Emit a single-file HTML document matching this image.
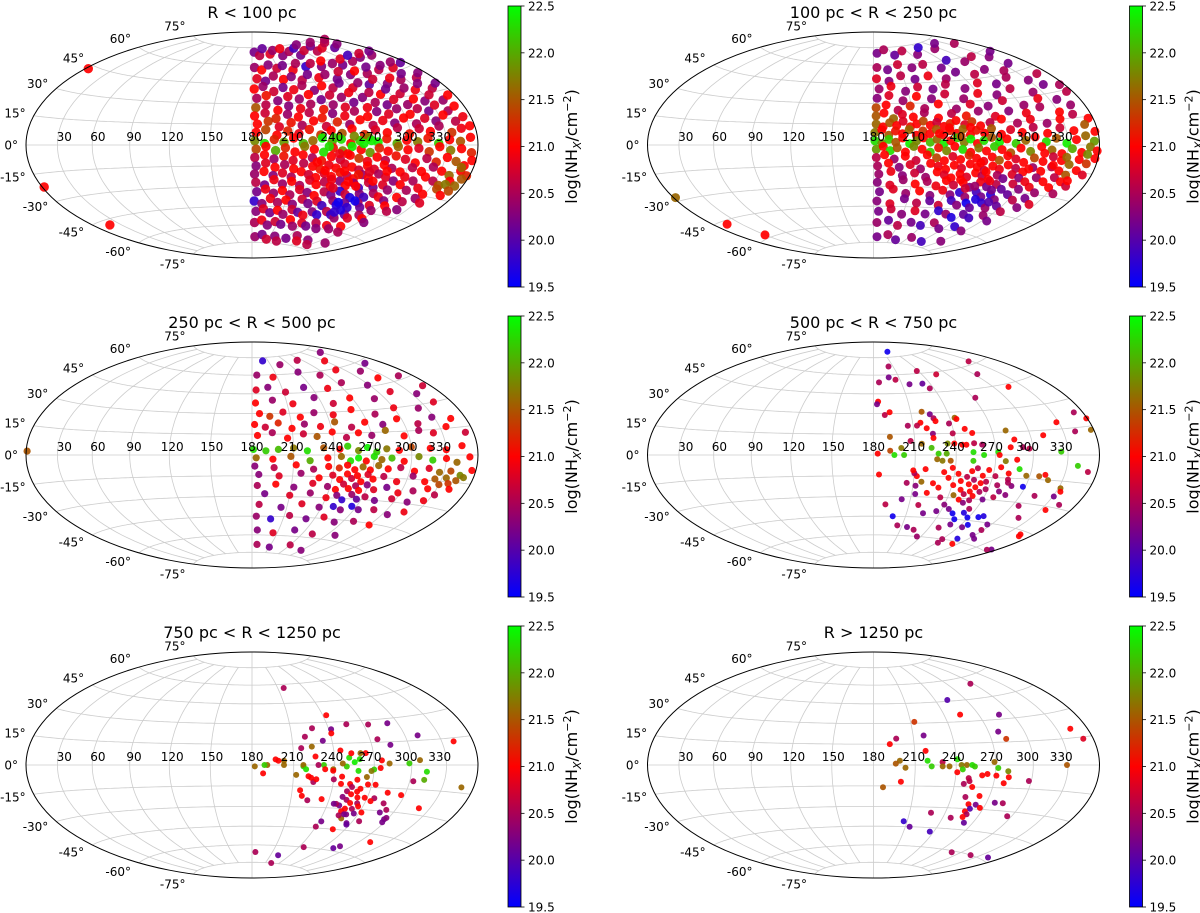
<!DOCTYPE html>
<html><head><meta charset="utf-8"><title>NH sky maps</title>
<style>
html,body{margin:0;padding:0;background:#fff;}
svg{display:block;font-family:"DejaVu Sans","Liberation Sans",sans-serif;}
</style></head>
<body>
<svg id="fig" width="1200" height="913" viewBox="0 0 1200 913" xmlns="http://www.w3.org/2000/svg">
<defs>
<linearGradient id="cmap" x1="0" y1="1" x2="0" y2="0">
<stop offset="0" stop-color="#0000ff"/><stop offset="0.5" stop-color="#ff0000"/><stop offset="1" stop-color="#00ff00"/>
</linearGradient>
</defs>
</svg>
<script>
const titles = ["R < 100 pc","100 pc < R < 250 pc","250 pc < R < 500 pc","500 pc < R < 750 pc","750 pc < R < 1250 pc","R > 1250 pc"];
const lonTickLabels = ["30","60","90","120","150","180","210","240","270","300","330"];
const latTicks = [-75,-60,-45,-30,-15,0,15,30,45,60,75];
const cbTicks = [19.5,20.0,20.5,21.0,21.5,22.0,22.5];
const cbMin = 19.5, cbMax = 22.5;

const pts1 = [
[184,71,20.2],[192,68,20.6],[201,74,20.1],[210,69,20.8],[219,72,20.4],[228,67,20.3],[236,73,20.9],[246,70,20.5],[255,66,20.2],[263,72,19.9],[272,69,20.7],[281,74,20.3],[290,67,20.6],[298,71,20.2],[307,68,20.8],[316,73,20.4],[325,66,20.1],[334,70,20.6],[343,67,20.3],[352,71,20.5],
[183,58,20.4],[191,56,21.0],[200,60,20.3],[209,57,20.7],[217,59,20.2],[226,55,20.9],[235,60,20.5],[244,57,19.8],[253,59,20.6],[262,56,20.3],[270,60,21.0],[279,57,20.4],[288,55,20.2],[297,59,20.8],[306,56,20.5],[315,60,19.9],[324,57,20.3],[333,59,20.7],[342,56,20.4],[351,58,20.2],
[185,49,20.8],[193,47,20.2],[202,51,20.5],[211,48,21.0],[220,50,20.3],[229,47,20.6],[238,51,20.2],[247,48,20.9],[256,50,20.4],[264,46,20.2],[273,51,20.7],[282,48,20.3],[291,50,21.0],[300,47,20.5],[309,51,20.2],[318,48,20.6],[327,50,20.3],[336,47,20.8],[345,50,20.4],[354,48,20.1],
[182,41,21.0],[190,43,20.4],[199,39,20.7],[208,42,20.2],[217,40,20.9],[226,43,20.5],[235,39,20.3],[244,42,21.0],[253,40,20.6],[262,43,20.2],[271,39,20.8],[280,42,20.4],[289,40,20.1],[298,43,20.7],[307,39,20.3],[316,42,20.9],[325,40,20.5],[334,43,20.2],[343,39,20.6],[352,41,20.3],
[184,34,20.5],[192,36,21.1],[201,32,20.3],[210,35,20.8],[219,33,20.4],[228,36,21.0],[237,32,20.2],[246,35,20.7],[255,33,20.4],[264,36,20.9],[273,32,20.3],[282,35,20.6],[291,33,21.0],[300,36,20.2],[309,32,20.7],[318,35,20.4],[327,33,20.9],[336,36,20.3],[345,32,20.6],[354,34,20.2],
[183,27,21.5],[191,29,20.6],[200,25,21.0],[209,28,20.3],[218,26,20.9],[227,29,20.5],[236,25,21.1],[245,28,20.4],[254,26,20.8],[263,29,20.2],[272,25,20.9],[281,28,20.5],[290,26,20.2],[299,29,20.8],[308,25,20.4],[317,28,21.0],[326,26,20.3],[335,29,20.7],[344,25,20.4],[353,27,21.0],
[182,21,21.0],[190,23,20.7],[198,19,21.2],[207,22,20.4],[215,20,21.0],[224,23,20.6],[233,19,21.1],[242,22,20.3],[251,20,20.9],[260,23,20.5],[269,19,21.0],[278,22,20.3],[287,20,20.8],[296,23,20.4],[305,19,21.0],[314,22,20.6],[323,20,20.2],[332,23,20.8],[341,19,20.5],[350,21,21.0],
[184,15,21.0],[192,17,21.3],[200,13,20.8],[209,16,21.1],[217,14,20.5],[226,17,21.0],[235,13,20.7],[244,16,21.2],[253,14,20.4],[262,17,21.0],[271,13,20.6],[280,16,20.9],[289,14,20.3],[298,17,21.0],[307,13,20.5],[316,16,20.8],[325,14,20.3],[334,17,21.0],[343,13,20.6],[352,15,20.9],
[183,9,21.0],[190,11,21.4],[198,7,21.0],[206,10,21.2],[214,8,20.9],[222,11,21.1],[230,7,21.3],[238,10,21.0],[246,8,21.5],[254,11,21.0],[263,7,21.2],[272,10,20.8],[281,8,21.0],[290,11,20.6],[299,7,21.1],[308,10,20.7],[317,8,21.0],[326,11,20.5],[336,7,21.3],[346,9,20.9],[355,10,21.0],
[182,3,21.8],[189,1,22.3],[196,4,21.2],[203,2,21.9],[210,5,21.0],[217,1,22.1],[224,3,21.6],[231,5,22.4],[238,2,21.8],[245,4,22.3],[252,1,21.0],[259,3,22.2],[266,5,21.7],[273,2,22.4],[280,4,21.1],[288,1,22.0],[296,3,21.0],[305,2,21.7],[314,4,21.1],[323,1,22.2],[333,3,21.0],[343,2,21.5],[353,4,21.0],
[183,-3,21.4],[190,-1,21.0],[197,-4,22.0],[204,-2,21.2],[211,-5,21.0],[218,-1,21.7],[225,-3,21.0],[232,-5,22.3],[239,-2,21.1],[246,-4,21.8],[253,-1,22.4],[260,-3,21.0],[267,-5,21.9],[274,-2,21.2],[281,-4,21.0],[289,-1,21.6],[297,-3,21.0],[306,-2,20.8],[315,-4,21.3],[324,-1,21.0],[334,-3,21.7],[344,-2,21.0],[354,-4,21.2],
[182,-9,20.6],[189,-7,21.0],[196,-10,20.4],[203,-8,21.1],[210,-11,20.8],[217,-7,21.0],[224,-9,20.5],[231,-11,21.1],[238,-8,21.0],[245,-10,20.7],[252,-7,21.0],[259,-9,21.3],[266,-11,20.9],[273,-8,21.0],[280,-10,20.6],[288,-7,21.1],[296,-9,20.8],[305,-11,21.0],[314,-8,20.6],[323,-10,21.2],[332,-7,21.0],[341,-9,21.5],[350,-11,21.0],
[183,-15,20.3],[190,-13,20.8],[197,-16,21.0],[204,-14,20.5],[211,-17,21.0],[218,-13,20.6],[225,-15,21.0],[231,-17,21.1],[237,-14,20.9],[243,-16,21.0],[249,-13,20.8],[255,-15,21.0],[261,-17,20.7],[267,-14,21.0],[273,-16,20.8],[280,-13,21.0],[287,-15,20.5],[295,-17,21.0],[304,-14,20.6],[313,-16,21.0],[322,-13,20.5],[331,-15,21.0],[340,-17,21.6],[349,-14,21.0],[357,-16,21.2],
[182,-21,20.4],[189,-19,21.0],[196,-22,20.3],[203,-20,20.8],[210,-23,20.5],[217,-19,21.0],[223,-21,20.7],[229,-23,21.0],[235,-20,20.8],[241,-22,21.0],[247,-19,21.1],[253,-21,20.6],[259,-23,21.0],[265,-20,20.4],[271,-22,21.0],[278,-19,20.5],[285,-21,20.8],[293,-23,20.3],[301,-20,20.9],[310,-22,20.5],[319,-19,21.0],[328,-21,20.6],[336,-23,21.5],[344,-20,21.0],[352,-22,21.6],
[183,-27,20.6],[190,-29,20.2],[197,-25,20.9],[204,-28,20.4],[211,-26,21.0],[218,-29,20.5],[225,-25,20.8],[231,-28,21.0],[237,-26,20.6],[243,-29,21.0],[249,-25,20.3],[255,-28,21.0],[261,-26,20.4],[267,-29,19.9],[273,-25,20.7],[279,-28,20.2],[286,-26,20.8],[293,-29,20.4],[301,-25,21.0],[310,-28,20.5],[319,-26,20.9],[328,-29,21.0],[337,-25,21.4],[346,-28,21.0],
[184,-34,20.2],[191,-32,20.9],[198,-35,20.4],[205,-33,21.0],[212,-36,20.5],[219,-32,20.8],[226,-34,20.3],[233,-36,21.0],[240,-33,20.6],[247,-35,20.2],[253,-32,19.8],[259,-34,20.7],[265,-36,19.7],[271,-33,20.3],[277,-35,19.9],[283,-32,20.5],[290,-34,20.9],[298,-36,20.3],[307,-33,21.0],[316,-35,20.6],[325,-32,20.4],[334,-34,20.8],
[182,-41,19.8],[189,-43,20.3],[196,-39,20.9],[203,-42,20.5],[210,-40,21.0],[217,-43,20.3],[224,-39,20.7],[231,-42,20.2],[238,-40,20.8],[245,-43,19.9],[252,-39,20.4],[258,-42,19.7],[264,-40,20.2],[270,-43,19.8],[276,-39,20.5],[282,-42,20.1],[289,-40,20.8],[296,-43,20.4],[304,-39,21.0],[312,-42,20.6],[320,-40,20.3],
[184,-49,20.3],[191,-47,20.8],[198,-50,20.2],[205,-48,21.0],[212,-51,20.4],[219,-47,20.7],[226,-49,20.1],[233,-51,20.9],[240,-48,20.3],[247,-50,19.8],[254,-47,20.6],[261,-49,19.9],[268,-51,20.4],[275,-48,20.1],[282,-50,20.8],[290,-47,20.5],[298,-49,21.0],[306,-51,20.3],
[183,-58,20.5],[191,-56,20.9],[199,-60,20.3],[207,-57,20.7],[215,-59,20.2],[223,-55,21.0],[231,-60,20.4],[239,-57,20.8],[247,-59,20.2],[255,-56,20.6],[263,-60,20.3],[271,-57,20.9],[279,-59,20.4],[288,-56,21.0],[297,-60,20.5],
[185,-70,20.4],[196,-68,20.2],[207,-72,20.7],[218,-69,20.3],[229,-73,20.6],[240,-70,20.2],[252,-67,20.5],[265,-71,20.8],[280,-69,20.3],[296,-72,20.6],[315,-68,20.4],
[3,43,21.0],[2,-22,21.0],[18,-48,21.0],
[235,-18,21.0],[242,-24,20.9],[250,-18,21.0],[256,-25,21.0],[262,-20,21.1],[270,-18,20.8],[276,-24,21.0],[246,-30,20.8],[264,-28,21.0],[228,-12,21.0],[284,-17,21.0],[240,5,22.2],[262,1,22.4],[250,-6,21.0],[255,6,21.8],[268,3,22.4],[236,-1,22.3],[244,-6,20.9],[258,-40,19.6],[266,-45,19.7],[272,-38,19.6],[262,-47,19.8],
[348,-12,21.6],[354,-18,21.5],[342,-22,21.7],[356,-8,21.0],[350,-25,21.4]
];

const pts2 = [
[186,70,20.2],[200,73,20.5],[214,68,20.1],[232,71,20.6],[250,67,20.3],[270,72,19.8],[292,69,20.4],[315,72,20.2],[340,68,20.5],
[184,58,20.5],[196,56,20.2],[210,60,20.7],[225,57,20.3],[241,59,20.6],[258,55,20.2],[276,60,19.9],[295,57,20.4],[314,59,20.6],[333,56,20.3],[350,58,20.2],
[183,49,20.8],[195,47,20.3],[208,51,20.6],[221,48,20.2],[236,50,20.9],[252,47,20.4],[268,51,20.2],[285,48,20.6],[302,50,20.3],[320,47,20.5],[338,50,20.2],
[185,41,20.4],[196,43,20.9],[208,39,20.3],[220,42,20.7],[233,40,20.2],[247,43,20.6],[262,39,20.3],[278,42,20.8],[295,40,20.2],[312,43,20.5],[330,39,20.3],[348,41,20.6],
[183,34,20.3],[193,36,20.8],[204,32,20.4],[216,35,21.0],[228,33,20.3],[241,36,20.7],[255,32,20.4],[270,35,20.9],[286,33,20.3],[303,36,20.6],[321,32,20.4],[339,35,20.2],[355,33,20.5],
[182,27,21.4],[190,29,21.0],[199,25,20.6],[209,28,21.2],[220,26,20.5],[232,29,21.0],[245,25,20.4],[258,28,20.8],[272,26,20.3],[287,29,20.7],[303,25,20.4],[320,28,20.9],[337,26,20.3],[354,29,20.6],
[182,21,21.5],[188,23,21.0],[195,19,21.6],[202,22,20.8],[210,20,21.0],[219,23,20.5],[229,19,21.0],[240,22,20.6],[251,20,21.1],[262,23,20.4],[274,19,20.8],[287,22,20.3],[301,20,20.9],[316,23,20.5],[331,19,21.0],[346,22,20.4],
[182,15,21.6],[187,13,21.0],[192,16,21.5],[197,14,21.0],[202,17,20.8],[207,13,21.1],[212,15,21.0],[217,17,21.4],[222,14,21.0],[227,16,20.7],[232,13,21.0],[237,15,21.2],[242,17,21.0],[248,14,20.8],[254,16,21.3],[260,13,21.0],[268,15,20.6],[278,17,21.0],[290,14,20.5],[302,16,20.9],[315,13,20.4],[328,15,21.0],[342,17,20.6],[355,14,21.0],
[181,9,21.7],[186,11,21.0],[191,7,21.5],[196,10,21.1],[201,8,21.0],[206,11,21.6],[211,7,21.0],[216,10,21.3],[221,8,21.0],[226,11,21.5],[231,7,21.0],[236,10,21.2],[241,8,21.0],[246,11,21.6],[251,7,21.0],[256,10,21.1],[262,8,21.0],[268,11,21.5],[275,7,21.0],[283,10,20.8],[292,8,21.0],[302,11,20.6],[313,7,21.0],[325,10,20.7],[337,8,21.0],[349,11,21.5],[357,7,21.0],
[181,3,22.3],[186,1,21.8],[191,4,22.2],[196,2,21.5],[201,5,21.0],[206,1,22.4],[211,3,21.8],[216,5,21.0],[221,2,22.1],[226,4,21.6],[231,1,22.4],[236,3,21.0],[241,5,22.2],[246,2,21.7],[251,4,22.4],[256,1,21.0],[261,3,22.3],[267,5,21.5],[273,2,22.4],[279,4,21.0],[286,1,22.2],[294,3,21.6],[302,5,21.0],[311,2,22.3],[320,4,21.5],[329,1,22.4],[338,3,21.0],[347,5,21.6],[355,2,21.9],
[182,-3,21.9],[187,-1,21.0],[192,-4,22.3],[197,-2,21.5],[203,-5,21.0],[209,-1,21.8],[215,-3,21.0],[221,-5,22.2],[227,-2,21.1],[233,-4,21.8],[239,-1,21.0],[245,-3,22.3],[251,-5,21.0],[257,-2,21.7],[263,-4,21.0],[269,-1,22.2],[275,-3,21.0],[282,-5,21.5],[290,-2,21.0],[298,-4,21.8],[307,-1,21.0],[316,-3,21.6],[325,-5,21.0],[334,-2,22.0],[343,-4,21.0],[351,-1,21.7],[358,-3,21.0],
[182,-9,20.6],[188,-7,21.0],[195,-10,20.4],[203,-8,21.0],[211,-11,20.7],[219,-7,21.0],[226,-9,21.4],[232,-11,21.0],[238,-8,20.8],[244,-10,21.0],[250,-7,21.2],[256,-9,21.0],[262,-11,20.9],[268,-8,21.0],[274,-10,21.5],[280,-7,21.0],[287,-9,20.8],[294,-11,21.0],[302,-8,21.4],[310,-10,21.0],[318,-7,20.7],[326,-9,21.0],[334,-11,21.6],[342,-8,21.0],[350,-10,21.3],[357,-7,21.0],
[183,-15,20.5],[191,-13,21.0],[199,-16,20.3],[207,-14,20.8],[215,-17,20.4],[222,-13,21.0],[228,-15,20.9],[234,-17,21.0],[240,-14,21.0],[246,-16,20.8],[252,-13,21.0],[258,-15,21.0],[264,-17,20.7],[270,-14,21.0],[276,-16,20.9],[282,-13,21.0],[289,-15,20.6],[296,-17,21.0],[303,-14,20.4],[311,-16,21.0],[319,-13,20.6],[327,-15,21.0],[335,-17,21.5],[343,-14,21.0],[351,-16,20.8],
[184,-21,20.4],[193,-19,20.9],[202,-22,20.3],[211,-20,20.7],[220,-23,20.4],[228,-19,21.0],[234,-21,20.8],[240,-23,21.0],[246,-20,21.0],[252,-22,20.8],[258,-19,21.0],[264,-21,20.6],[270,-23,21.0],[276,-20,20.5],[282,-22,20.2],[288,-19,20.8],[295,-21,20.3],[302,-23,20.9],[310,-20,20.4],[318,-22,21.0],[326,-19,20.6],[334,-21,21.0],[342,-23,20.7],
[183,-27,20.3],[193,-29,20.8],[203,-25,20.4],[213,-28,21.0],[222,-26,20.5],[230,-29,20.9],[237,-25,21.0],[244,-28,20.7],[251,-26,21.0],[258,-29,20.3],[265,-25,20.9],[272,-28,20.2],[279,-26,20.6],[286,-29,20.1],[293,-25,20.7],[301,-28,20.3],[309,-26,20.9],[318,-29,20.4],[327,-25,21.0],[336,-28,20.5],
[185,-34,20.2],[196,-32,20.8],[207,-35,20.4],[218,-33,21.0],[228,-36,20.3],[237,-32,20.9],[245,-35,20.3],[252,-33,19.8],[259,-36,20.4],[266,-32,19.9],[273,-35,20.2],[280,-33,19.7],[287,-36,20.3],[295,-32,20.1],[304,-35,20.6],[314,-33,20.2],[324,-36,20.8],
[183,-41,20.3],[195,-43,20.8],[207,-39,20.2],[219,-42,20.6],[230,-40,20.1],[240,-43,20.7],[249,-39,19.9],[257,-42,20.3],[264,-40,19.6],[271,-43,20.1],[278,-39,19.8],[286,-42,20.4],[295,-40,20.1],[305,-43,20.6],[316,-39,20.3],
[185,-49,20.2],[197,-47,20.7],[209,-51,20.3],[221,-48,20.8],[233,-50,20.2],[244,-47,19.8],[254,-49,20.4],[263,-51,19.7],[272,-48,20.1],[282,-50,19.9],[293,-47,20.4],[305,-50,20.2],
[184,-58,20.4],[197,-56,20.1],[210,-60,20.6],[224,-57,20.2],[238,-59,19.9],[251,-56,20.5],[265,-60,20.2],[280,-57,19.8],[296,-59,20.3],
[186,-70,20.2],[203,-68,20.5],[222,-72,20.1],[245,-69,20.4],[272,-71,19.9],[300,-68,20.3],
[2,-28,21.6],[15,-47,21.0],[30,-58,21.0],
[236,12,21.0],[244,6,21.4],[228,8,21.0],[252,12,21.0],[260,-12,21.0],[266,-18,21.0],[272,-24,20.9],[248,-24,21.0],[255,-30,20.7],[262,-28,20.4],[278,-30,20.2],[270,-37,19.7],[284,-38,20.0],[310,-5,21.0],[320,-12,21.0],[330,-7,21.6],[340,-20,21.0],[349,-5,21.8],[300,-15,21.0]
];

const pts3 = [
[200,72,19.8],[225,68,20.4],[262,70,20.6],[300,66,20.9],[330,71,20.3],
[186,60,20.4],[205,58,20.9],[240,61,20.3],[262,57,20.5],[290,59,20.9],[315,55,20.4],[340,58,20.2],
[184,48,20.8],[196,50,20.3],[212,46,20.7],[232,49,20.2],[255,47,20.9],[275,50,20.5],[298,46,20.3],[320,49,21.0],[345,47,20.5],
[183,38,21.0],[198,40,20.4],[215,37,20.9],[236,41,20.3],[250,36,20.7],[268,39,21.0],[290,37,20.4],[312,40,20.8],[335,36,20.3],[352,39,20.7],
[186,30,21.0],[194,28,21.3],[205,31,20.8],[218,27,21.0],[230,30,20.4],[245,28,20.9],[262,31,21.0],[280,27,20.5],[300,30,20.9],[322,28,20.4],[342,30,20.8],
[182,22,21.0],[190,20,20.7],[200,23,21.2],[210,19,21.0],[220,22,20.4],[232,20,20.9],[244,23,21.5],[256,19,20.6],[268,22,21.0],[282,20,20.3],[296,23,21.0],[312,19,20.6],[328,22,20.3],[345,20,21.0],
[184,14,21.0],[195,16,20.5],[206,12,21.0],[218,15,20.7],[228,13,21.5],[240,16,21.0],[250,12,20.6],[260,15,21.0],[270,13,20.4],[282,16,21.6],[296,12,21.0],[310,15,20.5],[322,13,20.8],[336,16,21.0],[352,12,20.7],
[181,4,22.3],[190,3,22.2],[199,4,22.1],[210,5,21.7],[220,3,22.3],[232,5,21.5],[244,4,21.0],[250,6,22.2],[258,3,21.8],[265,5,22.4],[272,2,22.2],[280,4,21.7],[290,3,21.0],[300,5,21.4],[316,4,21.0],[330,3,21.0],[345,5,21.0],
[183,-2,21.6],[195,-3,21.0],[208,-1,21.5],[222,-4,22.0],[235,-2,21.0],[245,-1,21.6],[252,-4,22.3],[258,-2,22.4],[264,-4,21.0],[270,-1,22.3],[276,-3,21.6],[284,-2,22.1],[294,-4,21.0],[306,-1,21.8],[318,-3,22.2],[330,-2,21.0],[340,-4,21.6],[352,-1,21.0],
[182,-8,20.3],[196,-9,20.6],[212,-7,21.0],[225,-10,20.5],[236,-8,21.0],[244,-9,21.2],[250,-7,21.0],[256,-10,21.0],[262,-8,21.6],[268,-10,21.0],[274,-7,21.6],[282,-9,21.0],[292,-8,20.6],[304,-10,21.0],[316,-8,20.8],[326,-10,21.6],[336,-9,21.4],[346,-11,21.8],[356,-8,21.0],
[185,-14,20.3],[200,-15,20.8],[216,-13,20.4],[230,-16,21.0],[240,-14,20.8],[246,-17,21.0],[251,-13,21.0],[255,-16,20.7],[259,-14,21.0],[263,-18,21.0],[267,-13,20.8],[272,-16,21.0],[280,-14,20.6],[292,-17,20.9],[304,-13,20.4],[316,-16,21.0],[324,-14,21.5],[330,-17,21.4],[334,-13,21.6],[338,-16,21.3],[344,-14,21.5],[350,-12,21.7],
[184,-22,20.5],[198,-21,21.0],[212,-23,20.3],[226,-20,20.8],[238,-22,20.4],[245,-24,21.0],[250,-20,20.7],[255,-23,21.0],[260,-21,20.5],[264,-24,21.0],[269,-20,20.3],[276,-23,20.8],[286,-21,20.2],[298,-24,20.9],[310,-22,20.5],[322,-20,21.0],[332,-23,20.6],[342,-19,21.0],
[190,-28,20.2],[210,-29,20.8],[226,-27,20.4],[240,-30,20.9],[248,-28,20.3],[254,-31,19.8],[260,-27,20.4],[266,-30,20.1],[272,-28,20.6],[282,-30,20.2],[296,-28,20.7],[312,-29,20.3],[326,-27,20.9],
[186,-36,20.6],[205,-38,20.2],[222,-35,20.8],[238,-37,20.3],[250,-36,19.8],[258,-38,20.3],[266,-35,19.7],[274,-37,20.2],[288,-36,20.6],[305,-38,20.3],[318,-35,20.9],
[184,-45,20.4],[198,-47,19.8],[215,-44,20.6],[232,-46,20.2],[248,-44,20.8],[262,-47,20.3],[280,-45,20.5],[300,-46,21.0],
[186,-56,20.3],[205,-58,20.8],[228,-55,20.2],[252,-57,20.6],[280,-56,20.3],
[188,-68,20.5],[210,-70,20.2],[240,-67,20.6],[270,-70,20.3],
[1,2,21.5]
];

const pts4 = [
[225,80,19.6],[203,67,20.5],[198,58,20.2],[186,54,20.5],[205,56,20.6],[218,52,20.2],[232,52,20.1],[236,48,20.5],[238,62,20.6],[257,58,20.7],[326,62,20.6],[304,54,20.5],[315,43,21.0],[272,39,20.5],
[184,39,21.0],[183,37,20.2],[189,29,20.6],[193,31,21.0],[219,31,21.5],[225,29,20.2],[227,26,20.5],[228,24,21.0],[216,23,21.0],[206,21,20.5],[213,21,20.6],[220,19,21.0],[224,15,20.3],[238,22,20.5],[244,26,21.6],[245,25,21.0],[249,18,21.0],[254,15,21.0],[239,15,20.6],[224,12,21.0],[215,8,21.6],[192,13,21.5],
[192,3,21.4],[183,1,21.0],[195,0,22.3],[200,5,21.7],[202,0,22.2],[207,10,20.6],[222,5,22.1],[227,1,22.2],[233,1,22.0],[226,-3,21.6],[230,-4,21.7],[236,-4,21.5],[234,8,21.8],[239,8,21.0],[245,7,21.0],[248,7,21.0],[254,8,20.6],[260,7,20.5],[253,2,22.3],[253,-4,22.2],[261,0,22.3],[272,2,22.3],[273,0,21.0],[278,-4,21.7],
[281,16,21.6],[282,5,21.0],[286,10,21.0],[292,5,20.5],[297,4,20.6],[287,-3,21.0],[290,-9,22.3],[275,-8,21.0],[282,-12,21.0],[283,-16,20.6],[288,-20,20.3],[297,-13,21.6],[308,-13,21.5],[311,12,21.0],
[328,19,21.0],[351,23,20.5],[341,13,20.5],[359,19,21.0],[357,13,21.6],[324,2,22.2],[340,-6,22.2],[351,-9,20.6],[313,-12,21.0],[317,-15,21.6],[332,-19,21.6],[334,-21,21.0],[331,-24,20.2],[343,-28,20.5],[313,-25,20.5],[335,-32,21.0],[298,-20,19.6],[306,-32,20.5],[318,-39,20.5],[346,-47,21.0],[348,-48,21.0],
[354,-58,20.2],[350,-59,20.5],[297,-54,20.2],[274,-50,20.2],[287,-58,19.7],[293,-62,21.0],[270,-60,20.5],[272,-63,20.5],[259,-49,20.2],[277,-48,19.6],[269,-43,19.6],[279,-42,19.6],[283,-41,19.7],[296,-46,20.2],[306,-56,20.2],[298,-50,20.5],[264,-37,20.5],
[246,-18,21.0],[250,-15,20.6],[253,-20,21.0],[256,-17,20.5],[259,-22,21.0],[262,-19,21.0],[248,-24,21.0],[252,-27,20.6],[256,-25,21.0],[260,-28,21.0],[264,-25,20.5],[250,-31,21.0],[255,-33,20.3],[259,-31,20.5],[244,-28,21.6],[262,-14,21.0],[266,-18,20.6],[268,-23,20.5],[270,-30,20.2],[241,-21,21.0],[253,-11,21.0],[257,-9,20.6],[266,-10,21.0],[272,-14,20.6],[276,-20,20.5],[280,-24,20.3],[284,-18,20.5],[278,-28,20.6],[287,-26,20.3],[243,-13,21.0],[238,-9,21.0],[232,-12,21.0],[236,-16,21.0],[240,-35,20.3],[234,-30,20.6],[246,-38,20.2],[252,-41,19.6],[262,-40,19.7],[258,-45,19.6],[236,-40,20.2],[230,-23,21.0],[225,-20,21.0],[218,-10,21.0],[212,-15,21.0],[210,-13,20.5],[216,-19,21.6],[222,-27,21.0],[213,-28,20.2],[218,-36,20.6],[225,-42,20.2],[205,-20,20.5],[212,-22,20.3],[203,-32,20.2],[198,-45,19.6],[205,-52,20.5],[216,-53,20.2],[225,-55,20.5],[250,-52,20.5],[235,-60,20.4],[184,-14,21.0],[190,-36,20.6],[209,-11,21.0]
];

const pts5 = [
[217,57,20.5],[243,35,21.0],[242,25,20.2],[241,22,21.0],[256,28,20.5],[274,27,20.5],[291,27,20.2],[311,18,20.2],[341,13,21.0],[285,13,20.2],[276,17,20.5],[233,17,20.2],[227,26,20.5],[220,20,20.5],[216,12,20.5],[224,13,21.6],
[264,8,21.0],[276,3,21.0],[282,1,21.6],[307,3,21.6],[298,1,22.2],[313,-4,22.3],[312,-9,22.0],[275,-2,21.0],[270,-3,22.2],[268,-4,21.7],[265,-8,21.6],[259,4,22.3],[258,-4,22.3],[255,2,22.4],[251,5,22.3],[249,-1,22.2],[253,8,21.0],[245,10,21.0],
[260,8,21.6],[246,1,21.6],[239,-3,21.6],[239,-4,21.0],[232,0,22.2],[233,-3,21.0],[228,0,20.5],[226,6,21.0],
[217,-1,22.3],[217,0,21.6],[219,-3,22.3],[212,-7,21.6],[221,-8,21.0],[225,-12,20.5],[227,-10,21.0],[223,-9,21.0],
[203,3,21.6],[203,0,21.6],[199,3,21.0],[197,4,21.0],[191,0,21.6],[189,0,22.2],[182,-1,21.6],[188,-6,21.0],
[216,-18,21.0],[218,-22,21.0],[223,-25,20.5],[234,-24,21.0],[240,-10,20.5],[246,-8,21.0],[246,-13,21.0],[253,-13,21.0],[258,-10,21.0],
[252,-18,20.5],[256,-20,21.0],[260,-18,21.0],[262,-22,21.0],[254,-24,20.5],[258,-26,21.0],[264,-26,20.5],[250,-28,20.2],[256,-30,21.0],[262,-30,20.5],[266,-28,21.0],[254,-32,21.0],[260,-34,20.3],[266,-33,20.2],[258,-37,21.6],[247,-27,20.5],[268,-22,21.0],[250,-22,20.3],[262,-16,21.0],[255,-15,20.5],
[267,-13,21.0],[273,-13,21.0],[276,-22,20.5],[274,-24,21.0],[272,-32,21.0],[276,-38,20.5],[266,-40,20.2],[267,-41,20.1],
[285,-18,21.0],[286,-25,20.5],[288,-31,20.2],[292,-29,20.5],[297,-35,20.2],[298,-37,20.2],[298,-34,20.3],[297,-19,21.0],[303,-10,20.5],[320,-26,21.0],[312,-50,21.0],[287,-56,20.2],[283,-58,20.1],
[245,-27,20.2],[258,-34,20.2],[254,-35,20.5],[242,-40,20.2],[240,-44,20.5],[258,-45,21.0],[246,-60,20.5],[222,-68,20.1],[223,-75,20.5],[185,-66,20.5],[348,-12,21.6]
];

const pts6 = [
[297,55,20.5],[252,46,20.0],[254,35,21.0],[288,33,20.2],[213,31,21.3],[218,21,20.2],[278,22,20.2],[282,17,21.3],[343,20,21.0],[350,14,20.8],[197,19,20.5],[192,15,21.0],[218,10,21.0],
[199,3,21.6],[196,1,21.5],[203,-2,21.6],[187,-16,21.5],[200,-12,21.0],[219,3,22.3],[222,-1,22.2],[230,2,20.6],[230,-1,21.6],[235,-1,21.6],[241,4,22.3],[241,-5,21.0],[244,0,21.7],[245,-3,22.2],[248,0,21.6],[252,0,22.3],[254,-1,22.2],[269,2,21.6],[272,-2,22.2],[280,-4,21.8],[264,-6,21.0],[260,-7,21.0],[271,-7,21.0],[278,-12,21.0],[281,-8,21.0],
[250,-9,20.6],[251,-11,20.6],[247,-13,20.5],[254,-15,21.0],[262,-21,21.0],[251,-22,20.5],[262,-27,20.2],[256,-27,21.0],[259,-30,20.0],[256,-32,21.0],[259,-34,20.5],[257,-36,21.0],[267,-29,21.0],
[277,-25,20.2],[284,-25,20.5],[296,-33,20.5],[298,-10,20.5],[228,-34,20.5],[247,-37,20.5],[262,-40,20.1],[207,-41,19.8],[214,-45,20.1],[236,-48,19.9],[288,-61,20.5],[318,-60,20.5],[344,-58,20.1],[329,0,21.5]
];

const panels = [pts1,pts2,pts3,pts4,pts5,pts6];
const dotRadius = [4.7,4.5,3.6,3.0,3.0,3.0];
const centers = [[252,145],[873.5,145],[252,455],[873.5,455],[252,765],[873.5,765]];
const A = 226, B = 113;
const NS = "http://www.w3.org/2000/svg";
const svg = document.getElementById('fig');

function hammer(lon, lat){
  let l = (lon - 180) * Math.PI/180;
  if (l > Math.PI) l -= 2*Math.PI;
  if (l < -Math.PI) l += 2*Math.PI;
  const p = lat*Math.PI/180;
  const z = Math.sqrt(1 + Math.cos(p)*Math.cos(l/2));
  return [Math.cos(p)*Math.sin(l/2)/z, Math.sin(p)/z];
}
function proj(lon, lat, c){ const h = hammer(lon, lat); return [c[0] + A*h[0], c[1] - B*h[1]]; }
function cmap(v){
  let t = (v - cbMin)/(cbMax - cbMin); t = Math.max(0, Math.min(1, t));
  let r,g,b;
  if (t < 0.5){ r = 2*t*255; g = 0; b = (1-2*t)*255; } else { r = (2-2*t)*255; g = (2*t-1)*255; b = 0; }
  return `rgb(${Math.round(r)},${Math.round(g)},${Math.round(b)})`;
}
function el(tag, attrs, parent){ const e = document.createElementNS(NS, tag); for (const k in attrs) e.setAttribute(k, attrs[k]); (parent||svg).appendChild(e); return e; }

panels.forEach((pts, i) => {
  const c = centers[i];
  const g = el('g', {});
  
  
  const grid = el('g', {stroke:'#cccccc','stroke-width':'0.8',fill:'none'}, g);
  
  
  for (let lat = -75; lat <= 75; lat += 15){
    let d = '';
    for (let lon = 0; lon <= 360; lon += 3){ const q = proj(lon === 360 ? 359.999 : (lon===0?0.001:lon), lat, c); d += (d ? 'L' : 'M') + q[0].toFixed(1) + ',' + q[1].toFixed(1); }
    const pth = el('path', {d:d}, grid);
    
    
  }
  for (let lon = 30; lon <= 330; lon += 30){
    const cap = lon === 180 ? 90 : 75;
    let d = '';
    for (let lat = -cap; lat <= cap; lat += 2.5){ const q = proj(lon, lat, c); d += (d ? 'L' : 'M') + q[0].toFixed(1) + ',' + q[1].toFixed(1); }
    const pth = el('path', {d:d}, grid);
    
    
  }
  const pg = el('g', {}, g);
  
  
  const rad = dotRadius[i];
  pts.forEach(p => {
    const q = proj(p[0], p[1], c);
    const dot = el('circle', {cx:q[0].toFixed(1), cy:q[1].toFixed(1), r:rad, fill:cmap(p[2]), 'fill-opacity':'0.92'}, pg);
    
    
  });
  const ol = el('ellipse', {cx:c[0], cy:c[1], rx:A, ry:B, fill:'none', stroke:'#000', 'stroke-width':'1'}, g);
  
  
  lonTickLabels.forEach((lab, k) => {
    const lon = 30 + 30*k;
    const h = hammer(lon, 0);
    const t = el('text', {x:(c[0] + A*h[0] - 8*h[0]).toFixed(1), y:(c[1]-4).toFixed(1), 'font-size':'12', 'text-anchor':'middle', fill:'#000'}, g);
    t.textContent = lab;
    
    
  });
  latTicks.forEach(lat => {
    const q = proj(0.001, lat, c);
    const t = el('text', {x:(q[0]-8).toFixed(1), y:(q[1] - 10*Math.sin(lat*Math.PI/180) + 4.5).toFixed(1), 'font-size':'12', 'text-anchor':'end', fill:'#000'}, g);
    t.textContent = lat + '°';
    
    
  });
  const tt = el('text', {x:c[0], y:c[1]-127, 'font-size':'16', 'text-anchor':'middle', fill:'#000'}, g);
  tt.textContent = titles[i];
  
  
  const cbx = c[0] + 256, cby = c[1] - 139, cbh = 281, cbw = 13;
  const cb = el('g', {}, g);
  
  
  el('rect', {x:cbx, y:cby, width:cbw, height:cbh, fill:'url(#cmap)', stroke:'#000', 'stroke-width':'0.8'}, cb);
  cbTicks.forEach(v => {
    const y = cby + cbh - (v - cbMin)/(cbMax - cbMin)*cbh;
    el('line', {x1:cbx+cbw, x2:cbx+cbw+3.5, y1:y, y2:y, stroke:'#000', 'stroke-width':'0.8'}, cb);
    const t = el('text', {x:cbx+cbw+7, y:y+4.5, 'font-size':'12', fill:'#000'}, cb);
    t.textContent = v.toFixed(1);
    
    
  });
  const lx = cbx + cbw + 56, ly = cby + cbh/2;
  const lab = el('text', {x:lx, y:ly, 'font-size':'16', 'text-anchor':'middle', transform:`rotate(-90 ${lx} ${ly})`, fill:'#000'}, cb);
  
  
  lab.innerHTML = 'log(NH<tspan font-size="11" font-style="italic" dy="4">X</tspan><tspan dy="-4">/cm</tspan><tspan font-size="11" dy="-6">−2</tspan><tspan dy="6">)</tspan>';
});
</script>
</body></html>
